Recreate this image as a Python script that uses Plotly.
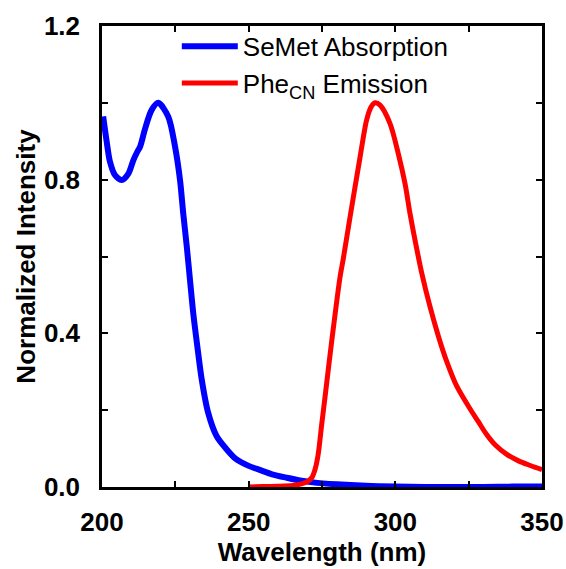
import plotly.graph_objects as go

# SeMet absorption (wavelength nm, normalized intensity)
abs_wl = [200.4, 201.6, 202.7, 204.4, 206.7, 209.0, 210.7, 212.0, 213.0, 214.7, 216.9, 219.2,
          222.6, 224.9, 226.6, 227.7, 228.9, 230.0, 231.1, 232.5, 234.0, 236.2, 239.1, 242.5,
          245.5, 250.0, 254.0, 258.0, 263.0, 267.5, 272.0, 280.0, 290.0, 300.0, 310.0, 320.0,
          330.0, 340.0, 350.0]
abs_int = [0.965, 0.899, 0.847, 0.812, 0.799, 0.816, 0.851, 0.872, 0.886, 0.933, 0.981, 1.0,
           0.964, 0.886, 0.799, 0.712, 0.626, 0.539, 0.453, 0.366, 0.280, 0.193, 0.132, 0.098,
           0.074, 0.055, 0.044, 0.033, 0.024, 0.017, 0.012, 0.007, 0.003, 0.001, 0.0, 0.0,
           0.0, 0.001, 0.001]

# PheCN emission
em_wl = [250.0, 255.0, 260.0, 265.0, 268.0, 270.0, 271.5, 272.6, 273.7, 274.9, 276.0, 278.3,
         281.1, 282.3, 284.5, 287.9, 290.2, 291.8, 293.1, 294.8, 298.2, 301.0, 303.3, 305.0,
         306.7, 309.0, 311.8, 314.7, 317.5, 320.9, 325.5, 328.3, 331.0, 334.0, 338.0, 342.0,
         346.0, 350.0]
em_int = [0.0, 0.001, 0.002, 0.004, 0.008, 0.014, 0.024, 0.045, 0.085, 0.163, 0.232, 0.379,
          0.544, 0.596, 0.70, 0.855, 0.955, 0.99, 1.0, 0.994, 0.946, 0.868, 0.790, 0.712,
          0.643, 0.557, 0.470, 0.392, 0.327, 0.263, 0.203, 0.170, 0.138, 0.110, 0.085, 0.068,
          0.056, 0.045]

x_ticks = [200, 250, 300, 350]
y_ticks = [0.0, 0.4, 0.8, 1.2]

FONT = "Liberation Sans, Arial, sans-serif"

fig = go.Figure()
fig.add_trace(go.Scatter(x=abs_wl, y=abs_int, mode="lines", name="SeMet Absorption",
                         line=dict(color="#0000ff", width=6, shape="spline", smoothing=0.8)))
fig.add_trace(go.Scatter(x=em_wl, y=em_int, mode="lines", name="Phe<sub>CN</sub> Emission",
                         line=dict(color="#ff0000", width=5, shape="spline", smoothing=0.8)))

title_font = dict(family=FONT, size=26, color="black")
tick_font = dict(family=FONT, size=26, color="black", weight="bold")
fig.update_layout(
    width=566, height=569,
    margin=dict(l=102, r=24, t=26, b=82),
    paper_bgcolor="white", plot_bgcolor="white",
    showlegend=True,
    legend=dict(x=0.17, y=1.007, xanchor="left", yanchor="top",
                font=dict(family=FONT, size=26, color="black"),
                bgcolor="rgba(0,0,0,0)", itemwidth=56, tracegroupgap=0),
    xaxis=dict(range=[200, 350], tickvals=x_ticks, ticktext=[str(v) for v in x_ticks],
               ticks="inside", ticklen=6, tickwidth=2, tickcolor="black",
               minor=dict(dtick=25, tick0=200, ticks="inside", ticklen=6, tickwidth=2, tickcolor="black"),
               showline=True, linewidth=2.5, linecolor="black", mirror="ticks",
               showgrid=False, zeroline=False, ticklabelstandoff=10, automargin=False,
               tickfont=tick_font,
               title=dict(text="<b>Wavelength (nm)</b>", font=title_font, standoff=5)),
    yaxis=dict(range=[0, 1.2], tickvals=y_ticks, ticktext=["%.1f" % v for v in y_ticks],
               ticks="inside", ticklen=6, tickwidth=2, tickcolor="black",
               minor=dict(dtick=0.2, tick0=0, ticks="inside", ticklen=6, tickwidth=2, tickcolor="black"),
               showline=True, linewidth=2.5, linecolor="black", mirror="ticks",
               showgrid=False, zeroline=False, ticklabelstandoff=14, automargin=False,
               tickfont=tick_font,
               title=dict(text="<b>Normalized Intensity</b>", font=title_font, standoff=1)),
)
fig.write_html("out.html")
